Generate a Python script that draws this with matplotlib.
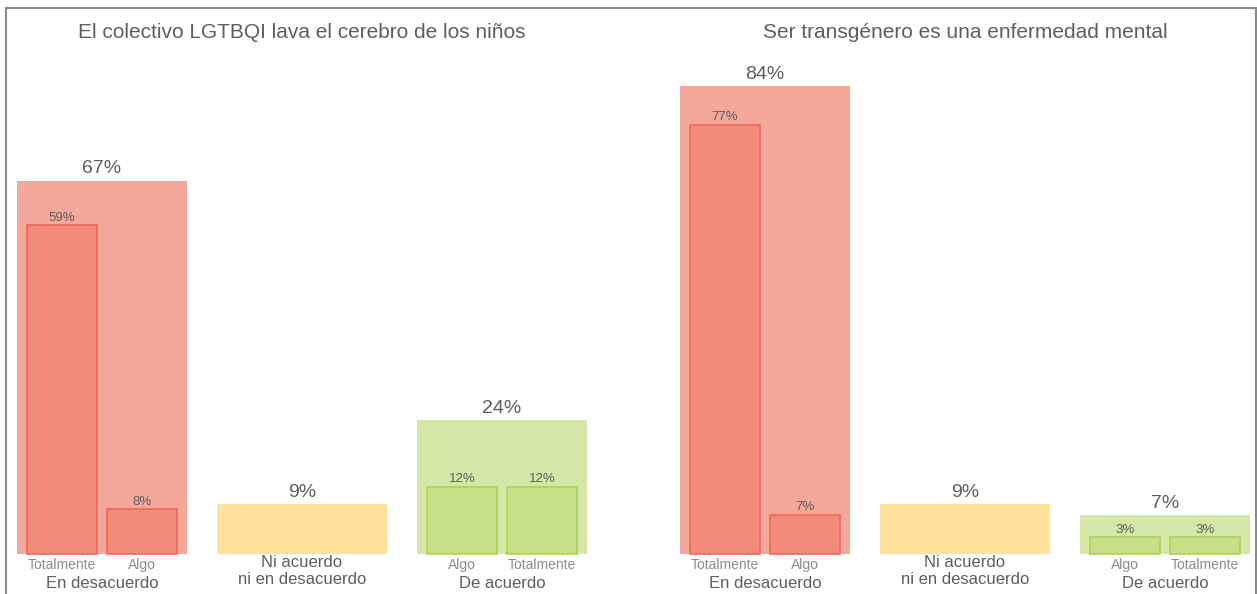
import numpy as np
import matplotlib.pyplot as plt
from matplotlib.patches import Rectangle

plt.rcParams['font.family'] = ['Liberation Sans', 'DejaVu Sans']

# Datos
titulos = ['El colectivo LGTBQI lava el cerebro de los niños',
           'Ser transgénero es una enfermedad mental']
grupos = ['En desacuerdo', 'Ni acuerdo\nni en desacuerdo', 'De acuerdo']
desacuerdo_total = [67, 84]
desacuerdo_totalmente = [59, 77]
desacuerdo_algo = [8, 7]
neutral = [9, 9]
acuerdo_total = [24, 7]
acuerdo_algo = [12, 3]
acuerdo_totalmente = [12, 3]

# Colores
rojo_fondo = '#F4A89B'
rojo_barra = '#F38B7B'
rojo_borde = '#EE6A5A'
amarillo = '#FEE29C'
verde_fondo = '#D6E6A6'
verde_barra = '#C8DF88'
verde_borde = '#A9D15E'
gris_osc = '#5E5E5E'
gris_cla = '#8C8C8C'

fig = plt.figure(figsize=(12.57, 5.94), dpi=100)
ax = fig.add_axes([0, 0, 1, 1])

# escala: 200 px por grupo, 5.57 px por punto porcentual
ax.set_xlim(-102 / 200, (1257 - 102) / 200)
ax.set_ylim(-40 / 5.57, 554 / 5.57)
ax.axis('off')

ancho = 0.85
sub_ancho = 0.35
desp = 0.2
offset_panel = 3.315

for p in range(2):
    x0 = p * offset_panel
    xs = x0 + np.arange(3)

    # grupo desacuerdo
    ax.bar(xs[0], desacuerdo_total[p], width=ancho, color=rojo_fondo, zorder=1)
    ax.bar([xs[0] - desp, xs[0] + desp], [desacuerdo_totalmente[p], desacuerdo_algo[p]],
           width=sub_ancho, color=rojo_barra, edgecolor=rojo_borde, linewidth=1.2, zorder=2)
    # neutral
    ax.bar(xs[1], neutral[p], width=ancho, color=amarillo, zorder=1)
    # acuerdo
    ax.bar(xs[2], acuerdo_total[p], width=ancho, color=verde_fondo, zorder=1)
    ax.bar([xs[2] - desp, xs[2] + desp], [acuerdo_algo[p], acuerdo_totalmente[p]],
           width=sub_ancho, color=verde_barra, edgecolor=verde_borde, linewidth=1.2, zorder=2)

    # etiquetas grandes
    for x, v in zip(xs, [desacuerdo_total[p], neutral[p], acuerdo_total[p]]):
        ax.text(x, v + 0.6, f'{v}%', ha='center', va='bottom', fontsize=14, color=gris_osc)

    # etiquetas pequeñas
    pares = [(xs[0] - desp, desacuerdo_totalmente[p]), (xs[0] + desp, desacuerdo_algo[p]),
             (xs[2] - desp, acuerdo_algo[p]), (xs[2] + desp, acuerdo_totalmente[p])]
    for x, v in pares:
        ax.text(x, v + 0.3, f'{v}%', ha='center', va='bottom', fontsize=9.5, color=gris_osc)

    # subcategorías
    subs = [(xs[0] - desp, 'Totalmente'), (xs[0] + desp, 'Algo'),
            (xs[2] - desp, 'Algo'), (xs[2] + desp, 'Totalmente')]
    for x, t in subs:
        ax.text(x, -11 / 5.57, t, ha='center', va='center', fontsize=10, color=gris_cla)

    # grupos
    ax.text(xs[0], -29 / 5.57, grupos[0], ha='center', va='center', fontsize=12, color=gris_osc)
    ax.text(xs[1], -17 / 5.57, grupos[1], ha='center', va='center', fontsize=12,
            color=gris_osc, linespacing=1.15)
    ax.text(xs[2], -29 / 5.57, grupos[2], ha='center', va='center', fontsize=12, color=gris_osc)

    # título
    ax.text(xs[1], 521 / 5.57, titulos[p], ha='center', va='center', fontsize=15, color=gris_osc)

# marco
fig.patches.append(Rectangle((6 / 1257, -0.1), 1250 / 1257, 1.1 - 8 / 594,
                             transform=fig.transFigure, fill=False,
                             edgecolor='#8A8A8A', linewidth=1.5))

fig.savefig('out.png', dpi=100)
